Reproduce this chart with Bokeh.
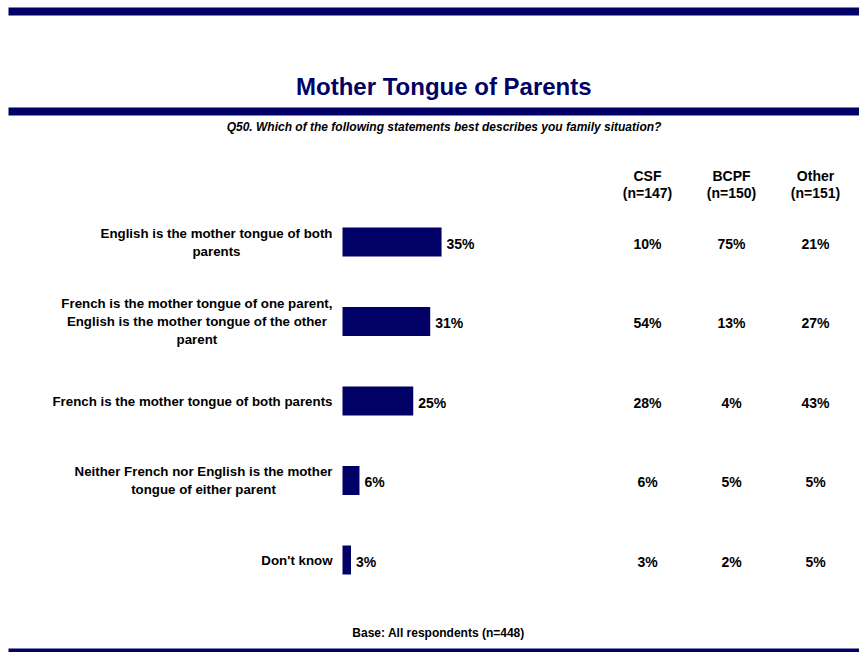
from bokeh.plotting import figure
from bokeh.models import Range1d, ColumnDataSource
from bokeh.core.properties import value
from bokeh.embed import file_html
from bokeh.resources import INLINE

# ---------------- data ----------------
title = "Mother Tongue of Parents"
subtitle = "Q50. Which of the following statements best describes you family situation?"
footer = "Base: All respondents (n=448)"
categories = [
    "English is the mother tongue of both\nparents",
    "French is the mother tongue of one parent,\nEnglish is the mother tongue of the other\nparent",
    "French is the mother tongue of both parents",
    "Neither French nor English is the mother\ntongue of either parent",
    "Don't know",
]
total = [35, 31, 25, 6, 3]
group_names = ["CSF\n(n=147)", "BCPF\n(n=150)", "Other\n(n=151)"]
csf = [10, 54, 28, 6, 3]
bcpf = [75, 13, 4, 5, 2]
other = [21, 27, 43, 5, 5]
groups = [csf, bcpf, other]

# ---------------- layout ----------------
W, H = 859, 652
NAVY = "#000066"
FONT = value("Liberation Sans")
PX = 2.83            # pixels per percentage point
BAR_X0 = 342         # pixel position of the bar baseline
ROW_Y0 = 241.5
ROW_STEP = 79.5
BAR_H = 29
LABEL_RIGHT = 332
COL_X = [647, 731, 815]

def dx(px):
    return (px - BAR_X0) / PX

# Arial/Liberation Sans Bold advance widths (per 1000 em)
AW = {' ': 278, "'": 238, ',': 278, 'E': 667, 'F': 611, 'N': 722, 'D': 722,
      'a': 556, 'b': 611, 'c': 556, 'd': 611, 'e': 556, 'f': 333, 'g': 611,
      'h': 611, 'i': 278, 'k': 556, 'l': 278, 'm': 889, 'n': 611, 'o': 611,
      'p': 611, 'r': 389, 's': 556, 't': 333, 'u': 611, 'w': 778}

def text_w(s, size):
    return sum(AW.get(c, 556) for c in s) * size / 1000.0

p = figure(width=W, height=H, output_backend="svg", toolbar_location=None,
           x_range=Range1d(dx(0), dx(W)), y_range=Range1d(H, 0),
           min_border=0, outline_line_color=None, background_fill_color="white",
           border_fill_color="white")
p.axis.visible = False
p.grid.visible = False

# decorative bands
p.quad(left=[dx(8)] * 3, right=[dx(W)] * 3, top=[7, 107, 648], bottom=[15, 115, H],
       fill_color=NAVY, line_color=None)

# titles
p.text(x=[dx(443.3)], y=[86.2], text=[title], text_font=FONT, text_font_style="bold",
       text_font_size="24px", text_color=NAVY, text_align="center", text_baseline="middle")
p.text(x=[dx(443.5)], y=[126], text=[subtitle], text_font=FONT, text_font_style="bold italic",
       text_font_size="12px", text_color="black", text_align="center", text_baseline="middle")
p.text(x=[dx(438)], y=[632.5], text=[footer], text_font=FONT, text_font_style="bold",
       text_font_size="12px", text_color="black", text_align="center", text_baseline="middle")

rows_y = [ROW_Y0 + i * ROW_STEP for i in range(len(categories))]
num_y = [y + 1.5 for y in rows_y]

# bars
src = ColumnDataSource(dict(y=rows_y, ny=num_y, v=total,
                            lab=[f"{v}%" for v in total],
                            lx=[v + 5 / PX for v in total]))
p.hbar(y="y", left=0, right="v", height=BAR_H, source=src, fill_color=NAVY, line_color=None)
p.text(x="lx", y="ny", text="lab", source=src, text_font=FONT, text_font_style="bold",
       text_font_size="14px", text_color="black", text_align="left", text_baseline="middle")

# category labels (lines centred, block right-aligned)
LS = 13.3
cx = [dx(LABEL_RIGHT - max(text_w(l, LS) for l in c.split("\n")) / 2) for c in categories]
p.text(x=cx, y=rows_y, text=categories, text_font=FONT, text_font_style="bold",
       text_font_size=f"{LS}px", text_color="black", text_align="center",
       text_baseline="middle", text_line_height=1.2)

# group columns
p.text(x=[dx(c) for c in COL_X], y=[184] * 3, text=group_names, text_font=FONT,
       text_font_style="bold", text_font_size="14px", text_color="black",
       text_align="center", text_baseline="middle", text_line_height=1.06)
for cxp, vals in zip(COL_X, groups):
    p.text(x=[dx(cxp)] * len(vals), y=num_y, text=[f"{v}%" for v in vals], text_font=FONT,
           text_font_style="bold", text_font_size="14px", text_color="black",
           text_align="center", text_baseline="middle")

open("out.html", "w").write(file_html(p, INLINE))
